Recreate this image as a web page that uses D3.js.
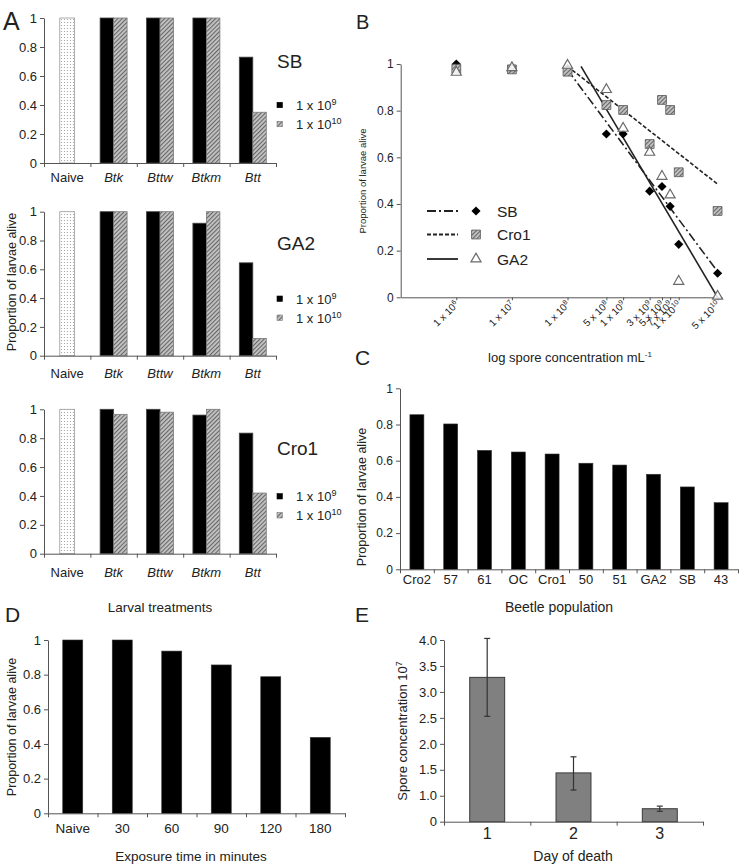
<!DOCTYPE html>
<html><head><meta charset="utf-8">
<script src="https://cdn.jsdelivr.net/npm/d3@7"></script>
<style>
body{margin:0;background:#fff}
text{font-family:"Liberation Sans",Arial,sans-serif;fill:#222}
</style>
</head><body>
<svg id="c" width="739" height="868"></svg>
<script>
// ---------- DATA ----------
// Panel A
const aCategories = ["Naive","Btk","Bttw","Btkm","Btt"];
const aTreatments = ["Btk","Bttw","Btkm","Btt"];
const aDoses = ["1e9","1e10"];
const aDoseExp = ["9","10"];
const aPopulations = ["SB","GA2","Cro1"];
const aNaive = [1,1,1];
const aSB_1e9 = [1,1,1,0.73];
const aSB_1e10 = [1,1,1,0.35];
const aGA2_1e9 = [1,1,0.92,0.645];
const aGA2_1e10 = [1,1,1,0.12];
const aCro1_1e9 = [1,1,0.96,0.835];
const aCro1_1e10 = [0.965,0.98,1,0.42];
const yTicks01 = [0,0.2,0.4,0.6,0.8,1];

// Panel B
const bConc = [1e6,1e7,1e8,5e8,1e9,3e9,5e9,7e9,1e10,5e10];
const bSB   = [1.0,0.98,0.98,0.70,0.70,0.455,0.475,0.39,0.227,0.103];
const bCro1 = [0.98,0.977,0.967,0.824,0.803,0.657,0.846,0.803,0.536,0.37];
const bGA2  = [0.96,0.98,0.99,0.886,0.72,0.617,0.514,0.434,0.064,0.0];
const bFitSB   = [[1e8,0.975],[5e10,0.11]];
const bFitCro1 = [[1e8,0.99],[5e10,0.485]];
const bFitGA2  = [[1.75e8,0.99],[5e10,0]];
const bTickMantissa = ["1","1","1","5","1","3","5","7","1","5"];
const bTickExp = ["6","7","8","8","9","9","9","9","10","10"];
const bLegend = ["SB","Cro1","GA2"];

// Panel C
const cPopulations = ["Cro2","57","61","OC","Cro1","50","51","GA2","SB","43"];
const cAlive = [0.854,0.803,0.657,0.648,0.637,0.586,0.576,0.525,0.455,0.368];

// Panel D
const dTimes = ["Naive","30","60","90","120","180"];
const dAlive = [1,1,0.936,0.856,0.788,0.438];

// Panel E
const eDays = ["1","2","3"];
const eSpores = [3.28,1.44,0.75];
const eErrLow = [2.53,1.11,0.70];
const eErrHigh = [4.03,1.75,0.80];
const eTickValues = [0.5,1,1.5,2,2.5,3,3.5,4];
const eTickLabels = ["0","1.0","1.5","2.0","2.5","3.0","3.5","4.0"];

// ---------- DRAW ----------
const svg = d3.select("#c");
const defs = svg.append("defs");
const pd = defs.append("pattern").attr("id","dots").attr("width",3).attr("height",3).attr("patternUnits","userSpaceOnUse");
pd.append("rect").attr("width",3).attr("height",3).attr("fill","#fff");
pd.append("circle").attr("cx",1.5).attr("cy",1.5).attr("r",0.6).attr("fill","#999");
const ph = defs.append("pattern").attr("id","hatch").attr("width",3).attr("height",3).attr("patternUnits","userSpaceOnUse").attr("patternTransform","rotate(45)");
ph.append("rect").attr("width",3).attr("height",3).attr("fill","#c4c4c4");
ph.append("line").attr("x1",0.5).attr("y1",0).attr("x2",0.5).attr("y2",3).attr("stroke","#666").attr("stroke-width",1.2);

const AX = "#555";
function styleAxis(g, fs){
  g.selectAll("path,line").attr("stroke",AX).attr("stroke-width",1);
  g.selectAll("text").attr("fill","#222").style("font-size",fs+"px").style("font-family",'"Liberation Sans",Arial,sans-serif');
}
function letter(t,x,y,fs){
  svg.append("text").attr("x",x).attr("y",y).style("font-size",fs+"px").attr("fill","#111").text(t);
}
function text(t,x,y,fs,anchor,rot){
  const e = svg.append("text").style("font-size",fs+"px").attr("text-anchor",anchor||"middle");
  if(rot) e.attr("transform",`translate(${x},${y}) rotate(${rot})`); else e.attr("x",x).attr("y",y);
  e.text(t); return e;
}
function yAxis01(y, x0, fs){
  const g = svg.append("g").attr("transform",`translate(${x0},0)`)
    .call(d3.axisLeft(y).tickValues(yTicks01).tickFormat(d=>String(d)).tickSize(4).tickSizeOuter(0).tickPadding(3));
  styleAxis(g, fs); return g;
}
function xBoundaryAxis(n, x0, x1, yb){
  const xb = d3.scaleLinear([0,n],[x0,x1]);
  const g = svg.append("g").attr("transform",`translate(0,${yb})`)
    .call(d3.axisBottom(xb).tickValues(d3.range(n+1)).tickFormat("").tickSize(4).tickSizeOuter(0));
  styleAxis(g, 12); return g;
}

// Panel A
const aSeries = {SB:[aSB_1e9,aSB_1e10], GA2:[aGA2_1e9,aGA2_1e10], Cro1:[aCro1_1e9,aCro1_1e10]};
const aGeom = [{top:18,bottom:163,lab:50,xl:19},{top:211.7,bottom:355.7,lab:38,xl:22.5},{top:409.3,bottom:553.7,lab:46,xl:23.5}];
aPopulations.forEach((pop,i)=>{
  const gm = aGeom[i];
  const y = d3.scaleLinear([0,1],[gm.bottom,gm.top]);
  const x = d3.scaleBand(aCategories,[44,276]);
  const x1 = d3.scaleBand(aDoses,[0,x.bandwidth()]).paddingOuter(0.72);
  const g = svg.append("g");
  g.append("rect").attr("x", x("Naive")+x.bandwidth()/2 - x1.bandwidth()*0.55).attr("width",x1.bandwidth()*1.1)
    .attr("y",y(aNaive[i])).attr("height",y(0)-y(aNaive[i])).attr("fill","url(#dots)").attr("stroke","#999").attr("stroke-width",0.8);
  aDoses.forEach((dose,j)=>{
    g.selectAll(null).data(aSeries[pop][j]).join("rect")
      .attr("x",(d,k)=>x(aTreatments[k])+x1(dose)).attr("width",x1.bandwidth())
      .attr("y",d=>y(d)).attr("height",d=>y(0)-y(d))
      .attr("fill", j===0?"#000":"url(#hatch)").attr("stroke", j===0?"#444":"#7a7a7a").attr("stroke-width",0.8);
  });
  yAxis01(y,44,13);
  xBoundaryAxis(aCategories.length,44,276,gm.bottom);
  aCategories.forEach(c=>{
    text(c, x(c)+x.bandwidth()/2, gm.bottom+gm.xl, 13).style("font-style", c==="Naive"?"normal":"italic");
  });
  text(pop, 277, gm.top+gm.lab, 19, "start");
  aDoses.forEach((dose,j)=>{
    const ly = gm.top + 87 + j*19;
    svg.append("rect").attr("x",277).attr("y",ly-2.7).attr("width",5.4).attr("height",5.4)
      .attr("fill", j===0?"#000":"url(#hatch)").attr("stroke", j===0?"#000":"#777").attr("stroke-width",0.6);
    const t = svg.append("text").attr("x",296).attr("y",ly+5).style("font-size","13px");
    t.append("tspan").text("1 x 10");
    t.append("tspan").attr("dy",-5).style("font-size","9px").text(aDoseExp[j]);
  });
});
text("Proportion of larvae alive", 16, 282, 12.5, "middle", -90);
text("Larval treatments", 160, 612, 13.5);
letter("A",3,30,25);

// Panel B
{
  const y = d3.scaleLinear([0,1],[297.3,64]);
  const x = d3.scaleLog([1e5,6e10],[400.7,722]);
  yAxis01(y,400.7,12);
  const gx = svg.append("g").attr("transform","translate(0,297.3)")
    .call(d3.axisBottom(x).tickValues(bConc).tickFormat("").tickSize(3).tickSizeOuter(0));
  styleAxis(gx,10);
  bConc.forEach((v,i)=>{
    const t = svg.append("text").attr("transform",`translate(${x(v)+3},${305}) rotate(-45)`)
      .attr("text-anchor","end").style("font-size","10px");
    t.append("tspan").text(bTickMantissa[i]+" x 10");
    t.append("tspan").attr("dy",-3.5).style("font-size","7px").text(bTickExp[i]);
  });
  const line = d3.line().x(d=>x(d[0])).y(d=>y(d[1]));
  const dashes = {SB:"9,3,2,3", Cro1:"4,2", GA2:null};
  const fits = {SB:bFitSB, Cro1:bFitCro1, GA2:bFitGA2};
  bLegend.forEach(k=>{
    svg.append("path").attr("d",line(fits[k])).attr("fill","none").attr("stroke","#222").attr("stroke-width",1.6)
      .attr("stroke-dasharray",dashes[k]);
  });
  const diamond = d3.symbol(d3.symbolSquare,42)();
  const square = d3.symbol(d3.symbolSquare,78)();
  const tri = d3.symbol(d3.symbolTriangle,44)();
  svg.append("g").selectAll("path").data(bSB).join("path")
    .attr("d",diamond).attr("fill","#000")
    .attr("transform",(d,i)=>`translate(${x(bConc[i])},${y(d)}) rotate(45)`);
  svg.append("g").selectAll("path").data(bCro1).join("path")
    .attr("d",square).attr("fill","url(#hatch)").attr("stroke","#555").attr("stroke-width",0.8)
    .attr("transform",(d,i)=>`translate(${x(bConc[i])},${y(d)})`);
  svg.append("g").selectAll("path").data(bGA2).join("path")
    .attr("d",tri).attr("fill","#fff").attr("fill-opacity",0.85).attr("stroke","#6a6a6a").attr("stroke-width",1.2)
    .attr("transform",(d,i)=>`translate(${x(bConc[i])},${y(d)-1})`);
  // legend
  bLegend.forEach((k,i)=>{
    const ly = [211,234.5,259][i];
    svg.append("line").attr("x1",427).attr("x2",458).attr("y1",ly).attr("y2",ly)
      .attr("stroke","#222").attr("stroke-width",1.8).attr("stroke-dasharray",dashes[k]);
    const m = svg.append("path").attr("transform",`translate(476,${ly})` + (k==="SB"?" rotate(45)":""));
    if(k==="SB") m.attr("d",diamond).attr("fill","#000");
    else if(k==="Cro1") m.attr("d",square).attr("fill","url(#hatch)").attr("stroke","#555").attr("stroke-width",0.8);
    else m.attr("d",tri).attr("fill","#fff").attr("stroke","#6a6a6a").attr("stroke-width",1.2);
    text(k,497,ly+5.5,15.5,"start");
  });
  text("Proportion of larvae alive", 366, 181, 9.5, "middle", -90);
  const xt = svg.append("text").attr("x",570).attr("y",362).attr("text-anchor","middle").style("font-size","13px");
  xt.append("tspan").text("log spore concentration mL");
  xt.append("tspan").attr("dy",-5).style("font-size","8px").text("-1");
  letter("B",356,29,20);
}

// Panel C
{
  const y = d3.scaleLinear([0,1],[569.3,388.3]);
  const x = d3.scaleBand(cPopulations,[400,738]).paddingInner(0.586).paddingOuter(0.293);
  svg.append("g").selectAll("rect").data(cAlive).join("rect")
    .attr("x",(d,i)=>x(cPopulations[i])).attr("width",x.bandwidth())
    .attr("y",d=>y(d)).attr("height",d=>y(0)-y(d)).attr("fill","#000").attr("stroke","#333").attr("stroke-width",0.6);
  yAxis01(y,400,12);
  xBoundaryAxis(cPopulations.length,400,738,569.3);
  cPopulations.forEach(c=> text(c, x(c)+x.bandwidth()/2, 584, 13));
  text("Beetle population", 559, 612, 14);
  text("Proportion of larvae alive", 366, 497, 12.5, "middle", -90);
  letter("C",355,365,21);
}

// Panel D
{
  const y = d3.scaleLinear([0,1],[813.3,640]);
  const x = d3.scaleBand(dTimes,[48,345]).paddingInner(0.596).paddingOuter(0.298);
  svg.append("g").selectAll("rect").data(dAlive).join("rect")
    .attr("x",(d,i)=>x(dTimes[i])).attr("width",x.bandwidth())
    .attr("y",d=>y(d)).attr("height",d=>y(0)-y(d)).attr("fill","#000").attr("stroke","#333").attr("stroke-width",0.6);
  yAxis01(y,48,13);
  xBoundaryAxis(dTimes.length,48,345,813.3);
  dTimes.forEach(c=> text(c, x(c)+x.bandwidth()/2, 833, 13.5));
  text("Exposure time in minutes", 191, 861, 13.5);
  text("Proportion of larvae alive", 16, 727, 12.5, "middle", -90);
  letter("D",5,622,21);
}

// Panel E
{
  const y = d3.scaleLinear([0.5,4],[821.7,640]);
  const x = d3.scaleBand(eDays,[444,703]).paddingInner(0.595).paddingOuter(0.298);
  svg.append("g").selectAll("rect").data(eSpores).join("rect")
    .attr("x",(d,i)=>x(eDays[i])).attr("width",x.bandwidth())
    .attr("y",d=>y(d)).attr("height",d=>y(0.5)-y(d)).attr("fill","#808080").attr("stroke","#3a3a3a").attr("stroke-width",1);
  const eb = svg.append("g").attr("stroke","#333").attr("stroke-width",1.2);
  eDays.forEach((c,i)=>{
    const cx = x(c)+x.bandwidth()/2;
    eb.append("line").attr("x1",cx).attr("x2",cx).attr("y1",y(eErrLow[i])).attr("y2",y(eErrHigh[i]));
    eb.append("line").attr("x1",cx-3).attr("x2",cx+3).attr("y1",y(eErrLow[i])).attr("y2",y(eErrLow[i]));
    eb.append("line").attr("x1",cx-3).attr("x2",cx+3).attr("y1",y(eErrHigh[i])).attr("y2",y(eErrHigh[i]));
  });
  const gy = svg.append("g").attr("transform","translate(444,0)")
    .call(d3.axisLeft(y).tickValues(eTickValues).tickFormat((d,i)=>eTickLabels[i]).tickSize(4).tickSizeOuter(0).tickPadding(3));
  styleAxis(gy,13);
  xBoundaryAxis(eDays.length,444,703,821.7);
  eDays.forEach(c=> text(c, x(c)+x.bandwidth()/2, 839, 16));
  text("Day of death", 573, 861, 14);
  const yt = svg.append("text").attr("transform","translate(407,731) rotate(-90)").attr("text-anchor","middle").style("font-size","13px");
  yt.append("tspan").text("Spore concentration 10");
  yt.append("tspan").attr("dy",-5).style("font-size","9px").text("7");
  letter("E",355,622,21);
}
</script>
</body></html>
